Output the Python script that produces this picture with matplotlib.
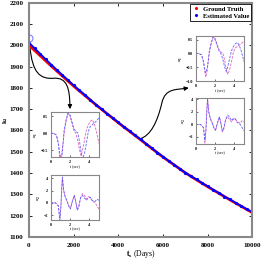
import numpy as np
import matplotlib.pyplot as plt
from matplotlib.path import Path
from matplotlib.patches import FancyArrowPatch

plt.rcParams["font.family"] = ["Liberation Serif", "DejaVu Serif"]
plt.rcParams["font.weight"] = "bold"
plt.rcParams["mathtext.fontset"] = "stix"

# main curve, ground truth
t_gt = np.arange(0, 10001, 500)
k_gt = [2000, 1951, 1902, 1855, 1808, 1764, 1720, 1678, 1636, 1596, 1556,
        1515, 1475, 1438, 1401, 1368, 1336, 1305, 1274, 1244, 1214]

# estimated values (every 250 days)
t_est = np.arange(0, 10001, 250)
k_est = [2012, 1986, 1960, 1934, 1909, 1884, 1860, 1836, 1812, 1789,
         1767, 1744, 1721, 1700, 1678, 1659, 1638, 1616, 1598, 1577,
         1558, 1537, 1517, 1496, 1477, 1457, 1439, 1420, 1402, 1385,
         1370, 1353, 1338, 1321, 1307, 1290, 1276, 1260, 1246, 1230, 1217]
t_start, k_start = 0, 2035

# inset signals
ts1 = [0, 0.3, 0.6, 0.8, 0.95, 1.05, 1.2, 1.4, 1.6, 1.8, 2.0, 2.2, 2.4, 2.6, 2.8,
       3.0, 3.15, 3.3, 3.5, 3.7, 3.9, 4.1, 4.3, 4.5, 4.7, 5.0]
x1a = [0.0, 0.0, -0.05, -0.3, -0.6, -0.7, -0.5, 0.0, 0.35, 0.6, 0.5, 0.3, 0.1,
       0.0, -0.2, -0.5, -0.65, -0.5, -0.2, 0.1, 0.25, 0.35, 0.4, 0.3, 0.1, -0.3]
x1b = [0.0, 0.0, -0.05, -0.3, -0.7, -0.85, -0.6, 0.1, 0.4, 0.6, 0.55, 0.35, 0.15,
       0.05, 0.02, -0.25, -0.55, -0.75, -0.6, -0.3, 0.05, 0.2, 0.25, 0.3, 0.35, 0.45]
ts2 = [0, 0.5, 0.8, 0.95, 1.05, 1.15, 1.22, 1.35, 1.5, 1.7, 1.9, 2.05, 2.25, 2.45,
       2.6, 2.75, 2.9, 3.1, 3.3, 3.5, 3.7, 3.9, 4.1, 4.3, 4.6, 4.8, 5.0]
x2a = [0, 0, -0.5, -2.5, -1.0, 2.0, 4.0, 2.0, 1.0, 0.2, -0.6, -0.9, 0.3, 1.2,
       0.2, -1.0, -0.6, 0.8, 1.5, 1.2, 0.6, 1.0, 0.9, 0.3, 0.0, -0.5, -1.0]
x2b = [0, 0, -0.5, -3.0, -1.0, 2.5, 4.2, 2.0, 1.0, 0.3, -0.6, -1.0, 0.2, 1.2,
       0.2, -1.2, -0.8, 0.8, 1.2, 0.8, 0.4, 0.8, 0.9, 0.4, 0.2, 0.6, 0.4]

fig = plt.figure(figsize=(2.61, 2.61), dpi=100)
ax = fig.add_axes([0.111, 0.092, 0.856, 0.898])
ax.plot(t_gt, k_gt, "r-", lw=2.0)
ax.plot(t_est, k_est, "b-", lw=1.3)
ax.plot(t_est, k_est, "b.", ms=2.6)
ax.plot(t_start, k_start, "o", mfc="none", mec="#8080ff", ms=5, mew=0.8)
ax.plot([], [], "r.", ms=2.5, label="Ground Truth")
ax.plot([], [], "b.", ms=2.5, label="Estimated Value")
ax.set_xlim(0, 10000)
ax.set_ylim(1100, 2200)
ax.set_xticks([0, 2000, 4000, 6000, 8000, 10000])
ax.set_yticks(np.arange(1100, 2201, 100))
ax.tick_params(direction="in", top=True, right=True, labelsize=5, length=2,
               width=0.6, pad=4)
for s in ax.spines.values():
    s.set_color("#888888")
    s.set_linewidth(1.5)
ax.set_xlabel(r"$\mathbf{t_s}$ (Days)", fontsize=5.5, labelpad=0)
ax.set_ylabel(r"$\mathbf{k_1}$", fontsize=5)
ax.yaxis.set_label_coords(-0.085, 0.5)
leg = ax.legend(loc="upper right", fontsize=4.8, handlelength=1.2,
                borderpad=0.3, labelspacing=0.2, handletextpad=0.4,
                fancybox=False, framealpha=1, borderaxespad=0.2)
leg.get_frame().set_edgecolor("k")
leg.get_frame().set_linewidth(0.6)

# curved arrows
p1 = Path([(45, 1992), (150, 1870), (500, 1840), (1100, 1845),
           (1700, 1850), (1830, 1800), (1834, 1700)],
          [Path.MOVETO, Path.CURVE4, Path.CURVE4, Path.CURVE4,
           Path.CURVE4, Path.CURVE4, Path.CURVE4])
p2 = Path([(4950, 1560), (5450, 1575), (5750, 1640), (5950, 1730),
           (6100, 1800), (6600, 1790), (7150, 1800)],
          [Path.MOVETO, Path.CURVE4, Path.CURVE4, Path.CURVE4,
           Path.CURVE4, Path.CURVE4, Path.CURVE4])
for p in (p1, p2):
    ax.add_patch(FancyArrowPatch(path=p, arrowstyle="-|>", mutation_scale=6,
                                 color="k", lw=0.8))


def inset(rect, ts, ya, yb, ylim, yticks, ylab):
    a = fig.add_axes(rect)
    a.plot(ts, ya, color="#e060c0", ls="--", lw=0.6, dashes=(3, 1.5))
    a.plot(ts, yb, color="#6060ff", ls="--", lw=0.6, dashes=(3, 1.5))
    a.set_xlim(0, 5)
    a.set_ylim(*ylim)
    a.set_xticks([0, 2, 4])
    a.set_yticks(yticks)
    a.tick_params(direction="in", labelsize=3, length=1.2, width=0.4, pad=2)
    for s in a.spines.values():
        s.set_color("#888888")
        s.set_linewidth(0.8)
    a.set_xlabel("t (sec)", fontsize=3, labelpad=0.5)
    a.set_ylabel(ylab, fontsize=3.5, labelpad=0.5)
    return a


inset([0.194, 0.398, 0.185, 0.172], ts1, x1a, x1b, (-0.7, 0.62), [-0.5, 0, 0.5], r"$x_1$")
inset([0.194, 0.157, 0.185, 0.172], ts2, x2a, x2b, (-2.8, 4.5), [-2, 0, 2, 4], r"$x_2$")
inset([0.750, 0.689, 0.185, 0.172], ts1, x1b, x1a, (-1, 0.62), [-1, -0.5, 0, 0.5], r"$x_1$")
inset([0.750, 0.449, 0.185, 0.176], ts2, x2b, x2a, (-3.1, 4.25), [-2, 0, 2, 4], r"$x_2$")

fig.savefig("out.png", dpi=100)
